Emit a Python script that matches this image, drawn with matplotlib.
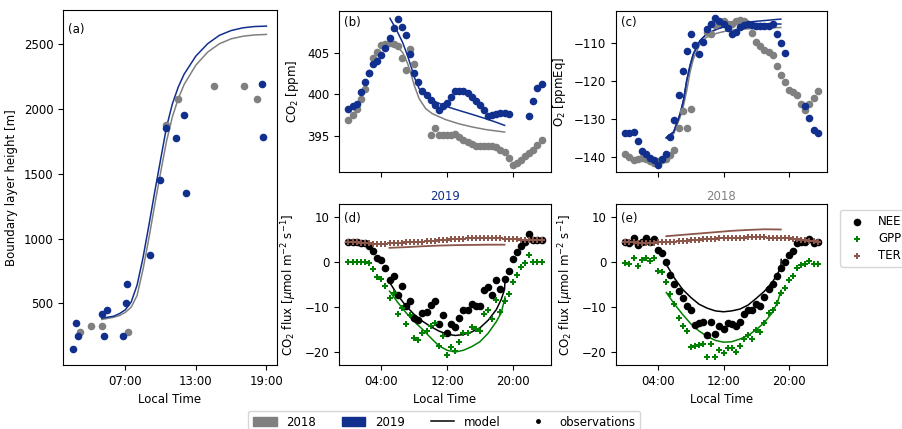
import numpy as np
import matplotlib
matplotlib.use("Agg")
import matplotlib.pyplot as plt
from matplotlib.patches import Patch
from matplotlib.lines import Line2D

plt.rcParams.update({
    "font.family": "DejaVu Sans",
    "font.size": 8.5,
})

BLUE = "#11308d"
GREY = "#808080"
GREEN = "#008000"
BROWN = "#8c564b"

# ------------------------------------------------------------
# (a) boundary layer height
# ------------------------------------------------------------
blh_t_2019 = [2.55, 2.8, 2.95, 5.02, 5.19, 5.41, 6.83, 7.08, 7.11, 9.1, 9.95,
              10.43, 11.3, 12.0, 12.2, 18.6, 18.7]
blh_2019 = [148, 346, 246, 418, 246, 449, 246, 500, 649, 875, 1451,
            1852, 1778, 1952, 1351, 2194, 1788]
blh_t_2018 = [3.15, 4.11, 5.02, 7.2, 10.46, 11.48, 14.5, 17.1, 18.2]
blh_2018 = [276, 325, 325, 276, 1878, 2079, 2179, 2179, 2079]

blh_model_t = [5, 6, 6.5, 7, 7.5, 8, 8.5, 9, 9.5, 10, 10.5, 11, 11.5, 12,
               13, 14, 15, 16, 17, 18, 19]
blh_model_2019 = [385, 400, 420, 450, 510, 640, 850, 1100, 1360, 1610, 1860,
                  2040, 2170, 2270, 2410, 2505, 2570, 2607, 2628, 2638, 2641]
blh_model_2018 = [375, 392, 405, 430, 470, 560, 760, 1000, 1260, 1510, 1750,
                  1940, 2080, 2190, 2340, 2440, 2505, 2543, 2563, 2573, 2577]

# ------------------------------------------------------------
# half-hourly observations (0:00 .. 23:30)
# ------------------------------------------------------------
hours = np.arange(48) * 0.5
nan = np.nan

co2_2019 = [398.3, 398.6, 398.9, 400.3, 401.5, 402.6, 403.6, 404.0, 404.7, 405.6,
            406.7, 408.0, 409.0, 408.1, 407.1, 404.8, 402.6, 401.5, 400.4, 399.9,
            399.3, 398.7, 398.1, 398.6, 399.0, 399.7, 400.4, 400.4, 400.4, 400.2,
            399.7, 399.2, 398.7, 398.1, 397.4, 397.6, 397.7, 397.8, 397.8, 397.7,
            nan, nan, nan, nan, 397.4, 399.2, 400.8, 401.2]
co2_2018 = [397.0, 397.5, 398.2, 399.4, 400.7, 402.6, 404.4, 405.1, 405.9, 406.0,
            406.2, 406.0, 405.8, 404.3, 402.9, 405.4, 403.6, nan, nan, nan,
            395.1, 396.0, 395.2, 395.2, 395.2, 395.2, 395.3, 394.9, 394.6, 394.3,
            394.1, 393.8, 393.8, 393.8, 393.8, 393.8, 393.7, 393.4, 393.1, 392.4,
            391.6, 391.8, 392.2, 392.6, 393.0, 393.4, 394.0, 394.5]

co2_model_t_2019 = [5.05, 5.8, 6.6, 7.2, 7.6, 8.0, 8.6, 9.4, 10.2, 11.8, 13.4,
                    15.1, 16.7, 17.9, 19.0]
co2_model_2019 = [409.1, 407.8, 406.2, 404.6, 403.4, 402.1, 400.7, 399.8, 399.3,
                  398.6, 398.1, 397.6, 397.1, 396.7, 396.3]
co2_model_t_2018 = [5.05, 5.8, 6.6, 7.2, 7.6, 8.0, 8.6, 9.4, 10.2, 11.8, 13.4,
                    15.1, 16.7, 19.0]
co2_model_2018 = [406.4, 405.9, 405.0, 403.7, 402.5, 401.1, 399.5, 398.3, 397.7,
                  397.0, 396.5, 396.1, 395.8, 395.5]

o2_2019 = [-133.6, -133.5, -133.3, -135.7, -138.3, -139.1, -140.2, -140.7, -141.9, -140.5,
           -139.1, -134.6, -130.1, -123.5, -117.2, -112.2, -107.5, -110.4, -112.9, -109.7,
           -106.3, -104.9, -103.5, -104.2, -104.9, -106.1, -107.7, -107.2, -105.9, -105.2,
           -105.0, -105.2, -105.5, -105.5, -105.5, -105.5, -105.0, -107.7, -110.0, -112.7,
           nan, nan, nan, nan, -126.6, -129.6, -132.7, -133.7]
o2_2018 = [-139.2, -140.0, -140.7, -140.3, -140.1, -140.5, -141.0, -141.4, -141.0, -140.8,
           -140.5, -139.4, -138.1, -132.4, -127.7, -132.2, -127.4, nan, nan, nan,
           -107.2, -107.7, -105.2, -104.6, -104.3, -105.0, -104.9, -104.3, -104.0, -104.3,
           -104.9, -107.4, -109.7, -110.7, -111.8, -112.4, -113.1, -115.9, -118.5, -120.3,
           -122.3, -122.9, -123.7, -125.9, -127.5, -125.9, -124.3, -122.7]

o2_model_t = [5.0, 5.9, 6.7, 7.1, 7.5, 7.9, 8.3, 9.1, 9.9, 11.2, 12.4, 14.4, 16.4, 19.0]
o2_model_2019 = [-134.8, -133.3, -128.5, -125.0, -119.8, -115.9, -112.9, -109.4,
                 -107.7, -106.3, -105.5, -104.6, -104.2, -103.7]
o2_model_2019b = [-134.8, -133.3, -128.5, -125.0, -119.8, -115.9, -112.9, -109.4,
                  -107.7, -106.3, -105.5, -104.8, -104.9, -105.0]
o2_model_2018 = [-135.0, -133.8, -129.4, -126.5, -122.4, -117.7, -114.2, -110.3,
                 -108.5, -107.4, -106.8, -106.3, -106.1, -105.9]

# ------------------------------------------------------------
# fluxes
# ------------------------------------------------------------
nee_2019 = [4.5, 4.4, 4.4, 4.3, 4.3, 3.6, 2.5, 1.0, 0.4, -1.3,
            -3.9, -3.0, -7.4, -5.4, -9.7, -8.6, -12.4, -13.0, -11.3, -11.1,
            -9.6, -8.6, -13.8, -11.8, -15.8, -13.9, -14.6, -12.6, -10.8, -10.8,
            -9.4, -9.7, -9.8, -6.2, -5.5, -7.4, -4.1, -5.9, -3.7, -1.9,
            0.7, 2.3, 3.6, 4.5, 6.3, 5.0, 5.0, 4.9]
gpp_2019 = [0.0, 0.0, 0.0, 0.0, 0.0, -0.3, -1.6, -3.3, -3.7, -5.4,
            -8.1, -7.0, -11.5, -10.2, -13.9, -11.9, -16.9, -17.4, -15.8, -15.4,
            -14.3, -13.5, -18.7, -16.5, -20.7, -18.9, -19.9, -17.8, -15.9, -15.9,
            -14.6, -15.0, -15.4, -11.5, -10.7, -12.8, -8.5, -11.2, -8.7, -7.1,
            -4.5, -2.8, -1.0, -0.1, 1.5, 0.0, 0.0, 0.0]
ter_2019 = [4.4, 4.4, 4.4, 4.3, 4.3, 4.2, 4.1, 4.1, 4.1, 4.1,
            4.2, 4.2, 4.3, 4.3, 4.4, 4.4, 4.5, 4.5, 4.6, 4.7,
            4.8, 4.8, 4.9, 5.0, 5.0, 5.1, 5.1, 5.2, 5.2, 5.3,
            5.3, 5.4, 5.4, 5.4, 5.4, 5.4, 5.3, 5.3, 5.2, 5.2,
            5.1, 5.1, 5.0, 5.0, 4.9, 4.9, 4.9, 4.9]

nee_2018 = [4.5, 4.2, 5.4, 3.8, 4.5, 5.4, 4.5, 5.2, 2.7, 2.1,
            0.1, -2.8, -4.8, -6.5, -8.0, -9.7, -10.7, -14.1, -13.7, -13.4,
            -16.3, -13.3, -16.1, -14.3, -14.9, -13.7, -13.8, -14.3, -13.4, -11.7,
            -10.6, -10.7, -9.4, -9.8, -7.7, -5.9, -5.0, -3.1, -1.3, 0.0,
            1.5, 2.4, 4.3, 4.5, 4.5, 5.1, 4.3, 4.5]
gpp_2018 = [-0.3, -0.5, 1.0, -0.9, 0.4, 1.0, 0.2, 1.0, -1.9, -2.2,
            -4.5, -7.1, -9.4, -12.4, -14.3, -15.4, -18.9, -18.7, -18.6, -18.4,
            -21.3, -18.4, -21.3, -19.7, -20.4, -19.1, -19.3, -20.2, -18.7, -17.2,
            -16.3, -17.1, -15.1, -15.6, -13.5, -11.4, -10.7, -9.1, -6.8, -5.7,
            -3.9, -3.0, -1.3, -0.7, -0.5, 0.2, -0.5, -0.5]
ter_2018 = [4.5, 4.4, 4.4, 4.3, 4.3, 4.3, 4.3, 4.3, 4.4, 4.4,
            4.5, 4.6, 4.6, 4.7, 4.8, 4.8, 4.9, 5.0, 5.0, 5.1,
            5.1, 5.2, 5.2, 5.3, 5.3, 5.4, 5.4, 5.5, 5.5, 5.5,
            5.6, 5.6, 5.6, 5.6, 5.6, 5.5, 5.5, 5.5, 5.4, 5.4,
            5.3, 5.2, 5.1, 5.0, 4.9, 4.8, 4.7, 4.6]

flux_model_t = [5, 6, 7, 8, 9, 10, 11, 12, 13, 14, 15, 16, 17, 18, 18.6, 19.0, 19.05]
nee_model_2019 = [-4.5, -7.4, -9.8, -11.7, -13.2, -14.4, -15.4, -16.1, -16.4, -16.2,
                  -15.6, -14.7, -13.0, -10.6, -8.3, -6.1, -4.2]
gpp_model_2019 = [-6.5, -9.0, -11.3, -13.3, -15.0, -16.9, -18.7, -19.7, -20.1, -19.7,
                  -18.9, -17.8, -15.9, -13.3, -11.3, -8.3, -7.8]
nee_model_2018 = [-0.5, -3.6, -6.1, -7.9, -9.4, -10.3, -10.9, -11.1, -10.9, -10.5,
                  -9.6, -8.1, -6.5, -4.4, -2.6, -1.3, 0.6]
gpp_model_2018 = [-6.8, -9.4, -11.7, -13.8, -15.4, -16.6, -17.5, -17.9, -17.8, -17.2,
                  -16.4, -15.1, -13.5, -11.2, -9.0, -6.5, -6.3]
ter_model_t = [5, 7, 9, 11, 13, 15, 17, 19]
ter_model_2019 = [3.2, 3.35, 3.55, 3.7, 3.8, 3.85, 3.9, 3.9]
ter_model_2018 = [5.8, 6.1, 6.4, 6.7, 7.0, 7.2, 7.35, 7.3]

# ============================================================
# Figure
# ============================================================
W, H = 903, 429
fig = plt.figure(figsize=(W / 100, H / 100), dpi=100)


def box(l, r, t, b):
    return [l / W, 1 - b / H, (r - l) / W, (b - t) / H]


ax_a = fig.add_axes(box(63, 277, 10, 365))
ax_b = fig.add_axes(box(339, 551, 11, 172))
ax_c = fig.add_axes(box(616, 827, 11, 172))
ax_d = fig.add_axes(box(339, 551, 204, 365))
ax_e = fig.add_axes(box(616, 827, 204, 365))

ms = 20

# (a)
ax_a.scatter(blh_t_2018, blh_2018, s=ms, color=GREY, zorder=3)
ax_a.scatter(blh_t_2019, blh_2019, s=ms, color=BLUE, zorder=3)
ax_a.plot(blh_model_t, blh_model_2018, color=GREY, lw=1.1)
ax_a.plot(blh_model_t, blh_model_2019, color=BLUE, lw=1.1)
ax_a.set_xlim(1.7, 19.9)
ax_a.set_xticks([7, 13, 19])
ax_a.set_xticklabels(["07:00", "13:00", "19:00"])
ax_a.set_yticks([500, 1000, 1500, 2000, 2500])
ax_a.set_ylabel("Boundary layer height [m]")
ax_a.set_xlabel("Local Time")

# (b)
ax_b.scatter(hours, co2_2018, s=ms, color=GREY, zorder=3)
ax_b.scatter(hours, co2_2019, s=ms, color=BLUE, zorder=3)
ax_b.plot(co2_model_t_2018, co2_model_2018, color=GREY, lw=1.1)
ax_b.plot(co2_model_t_2019, co2_model_2019, color=BLUE, lw=1.1)
ax_b.set_yticks([395, 400, 405])
ax_b.set_ylabel("CO$_2$ [ppm]")

# (c)
ax_c.scatter(hours, o2_2018, s=ms, color=GREY, zorder=3)
ax_c.scatter(hours, o2_2019, s=ms, color=BLUE, zorder=3)
ax_c.plot(o2_model_t, o2_model_2018, color=GREY, lw=1.1)
ax_c.plot(o2_model_t, o2_model_2019b, color=BLUE, lw=1.1)
ax_c.plot(o2_model_t, o2_model_2019, color=BLUE, lw=1.1)
ax_c.set_yticks([-140, -130, -120, -110])
ax_c.set_ylabel("O$_2$ [ppmEq]")

# (d), (e)
flux_sets = [
    (ax_d, nee_2019, gpp_2019, ter_2019, nee_model_2019, gpp_model_2019, ter_model_2019,
     "2019", BLUE),
    (ax_e, nee_2018, gpp_2018, ter_2018, nee_model_2018, gpp_model_2018, ter_model_2018,
     "2018", GREY),
]
for ax, nee, gpp, ter, nee_m, gpp_m, ter_m, yr, col in flux_sets:
    ax.scatter(hours, nee, s=ms, color="black", marker="o", zorder=3, label="NEE")
    ax.scatter(hours, gpp, s=18, color=GREEN, marker="P", linewidths=0, zorder=3,
               label="GPP")
    ax.scatter(hours, ter, s=18, color=BROWN, marker="P", linewidths=0, zorder=3,
               label="TER")
    ax.plot(flux_model_t, nee_m, color="black", lw=1.1)
    ax.plot(flux_model_t, gpp_m, color=GREEN, lw=1.1)
    ax.plot(ter_model_t, ter_m, color=BROWN, lw=1.3)
    ax.set_ylim(-23, 13)
    ax.set_yticks([-20, -10, 0, 10])
    ax.set_ylabel("CO$_2$ flux [$\\mu$mol m$^{-2}$ s$^{-1}$]")
    ax.set_xlabel("Local Time")
    ax.set_title(yr, color=col, fontsize=8.5, pad=3)

for ax in (ax_b, ax_c, ax_d, ax_e):
    ax.set_xlim(-1.15, 24.65)
    ax.set_xticks([4, 12, 20])
for ax in (ax_b, ax_c):
    ax.set_xticklabels([])
for ax in (ax_d, ax_e):
    ax.set_xticklabels(["04:00", "12:00", "20:00"])

for ax, lab, yy in [(ax_a, "(a)", 0.945), (ax_b, "(b)", 0.93), (ax_c, "(c)", 0.93),
                    (ax_d, "(d)", 0.913), (ax_e, "(e)", 0.913)]:
    ax.text(0.025, yy, lab, transform=ax.transAxes, ha="left", va="center")

ax_e.legend(loc="upper left", bbox_to_anchor=(1.035, 1.0), frameon=True,
            labelspacing=0.35)

handles = [
    Patch(color=GREY),
    Patch(color=BLUE),
    Line2D([0], [0], color="black", lw=1.1),
    Line2D([0], [0], color="black", marker=".", ls="none", markersize=5),
]
fig.legend(handles, ["2018", "2019", "model", "observations"], loc="upper center",
           bbox_to_anchor=(0.492, 0.056), ncol=4, columnspacing=2.2)

fig.savefig("out.png", dpi=100)
